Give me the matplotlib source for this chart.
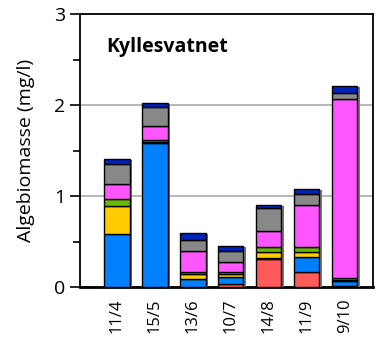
import numpy as np
import matplotlib
matplotlib.use('Agg')
import matplotlib.pyplot as plt
import matplotlib.patheffects as pe

plt.rcParams['font.family'] = ['Open Sans', 'DejaVu Sans']

# sampling dates and biomass per algae group (mg/l), bottom to top
dates = ['11/4', '15/5', '13/6', '10/7', '14/8', '11/9', '9/10']
red = [0.0, 0.0, 0.0, 0.035, 0.31, 0.16, 0.01]
blue = [0.58, 1.58, 0.085, 0.07, 0.01, 0.165, 0.06]
yellow = [0.31, 0.015, 0.055, 0.035, 0.06, 0.065, 0.01]
green = [0.08, 0.02, 0.02, 0.03, 0.06, 0.05, 0.015]
magenta = [0.16, 0.15, 0.24, 0.10, 0.18, 0.46, 1.97]
gray = [0.22, 0.21, 0.12, 0.125, 0.25, 0.125, 0.065]
darkblue = [0.055, 0.05, 0.07, 0.055, 0.03, 0.05, 0.075]

groups = [red, blue, yellow, green, magenta, gray, darkblue]
colors = ['#FF5A5A', '#0080FF', '#FFCC00', '#66BB00', '#FF55FF', '#888888', '#0022BB']

fig = plt.figure(figsize=(3.87, 3.45), dpi=100)
ax = fig.add_axes([0.207, 0.168, 0.757, 0.791])

x = np.arange(len(dates))
bottom = np.zeros(len(dates))
shadow = [pe.SimplePatchShadow(offset=(1.5, -0.5), shadow_rgbFace='#777777', alpha=1.0), pe.Normal()]
for vals, c in zip(groups, colors):
    bars = ax.bar(x, vals, width=0.66, bottom=bottom, color=c, edgecolor='black',
                  linewidth=1.0, zorder=3)
    for b in bars:
        b.set_path_effects(shadow)
    bottom = bottom + np.array(vals)

ax.set_ylim(0, 3)
ax.set_xlim(-0.97, 6.74)
ax.set_yticks([0, 1, 2, 3])
ax.set_yticks([0.5, 1.5, 2.5], minor=True)
ax.yaxis.grid(True, color='#AAAAAA', linewidth=1.2, zorder=0)
ax.set_axisbelow(True)
ax.tick_params(axis='y', which='major', length=7, width=1.2, labelsize=14, direction='out')
ax.tick_params(axis='y', which='minor', length=5, width=1.2, direction='out')
ax.set_xticks(x)
ax.set_xticklabels(dates, rotation=90, fontsize=12)
ax.tick_params(axis='x', length=0, pad=8)
for s in ax.spines.values():
    s.set_linewidth(1.3)
ax.spines['bottom'].set_linewidth(2)

ax.set_ylabel('Algebiomasse (mg/l)', fontsize=14, labelpad=14)
ax.text(0.09, 0.88, 'Kyllesvatnet', transform=ax.transAxes, fontsize=14,
        fontweight='bold', va='center')

fig.savefig('out.png', dpi=100)
